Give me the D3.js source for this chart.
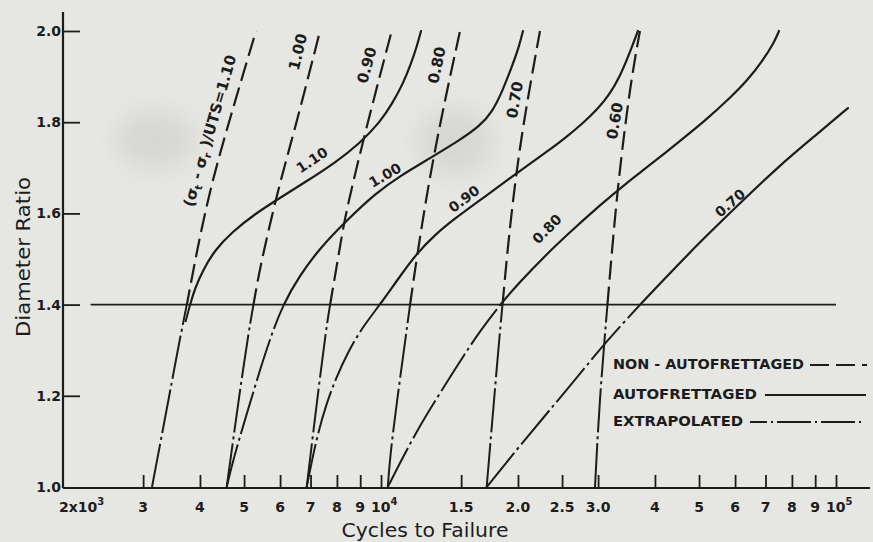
<!DOCTYPE html>
<html><head><meta charset="utf-8">
<script src="https://cdn.jsdelivr.net/npm/d3@7"></script>
<style>html,body{margin:0;padding:0;background:#e6e6e2;} svg{display:block}</style>
</head><body>
<svg id="chart" width="873" height="542"></svg>
<script>
// ---------- DATA : [cycles to failure, diameter ratio] ----------
const xTickValues = [2000,3000,4000,5000,6000,7000,8000,9000,10000,15000,20000,25000,30000,40000,50000,60000,70000,80000,90000,100000];
const xTickLabels = ["2x10","3","4","5","6","7","8","9","10","1.5","2.0","2.5","3.0","4","5","6","7","8","9","10"];
const xTickSups   = ["3","","","","","","","","4","","","","","","","","","","","5"];
const yTickValues = [1.0,1.2,1.4,1.6,1.8,2.0];
const yTickLabels = ["1.0","1.2","1.4","1.6","1.8","2.0"];

// Non-autofrettaged (dashed), from D.R. 1.4 upward
const nonAuto110 = [[3746,1.40],[3941,1.520],[4230,1.662],[4657,1.809],[5311,2.00]];
const nonAuto100 = [[5244,1.40],[5420,1.482],[5877,1.634],[6277,1.739],[6720,1.849],[7344,2.00]];
const nonAuto090 = [[7725,1.40],[8107,1.520],[8378,1.607],[9458,1.820],[10555,2.00]];
const nonAuto080 = [[11579,1.40],[12057,1.520],[12555,1.629],[13010,1.717],[13824,1.849],[14916,2.00]];
const nonAuto070 = [[18497,1.40],[18970,1.520],[19501,1.629],[20152,1.739],[20986,1.849],[22354,2.00]];
const nonAuto060 = [[31450,1.40],[33094,1.662],[35428,1.893],[37078,2.00]];

// Autofrettaged (solid), from D.R. 1.4 upward
const auto110 = [[3804,1.40],[3901,1.436],[4062,1.476],[4316,1.520],[4704,1.559],[5284,1.599],[5997,1.634],[6876,1.671],[7924,1.711],[8990,1.754],[9949,1.800],[10571,1.840],[11176,1.884],[11638,1.928],[11996,1.967],[12242,2.00]];
const auto100 = [[6089,1.40],[6636,1.465],[7344,1.524],[8335,1.581],[9749,1.645],[11008,1.682],[12814,1.721],[14916,1.761],[16502,1.792],[17540,1.822],[18450,1.866],[19402,1.923],[20000,1.958],[20512,2.00]];
const auto090 = [[9949,1.40],[10896,1.456],[11996,1.513],[13141,1.553],[14394,1.586],[17095,1.640],[19899,1.689],[22928,1.732],[25378,1.765],[27652,1.796],[29836,1.827],[31858,1.862],[33512,1.901],[34894,1.943],[35786,1.971],[36704,2.00]];
const auto080 = [[18264,1.40],[20204,1.450],[22928,1.507],[26028,1.559],[30290,1.618],[34366,1.664],[39004,1.706],[45412,1.759],[51524,1.803],[58474,1.853],[64060,1.893],[69102,1.936],[73064,1.974],[74936,2.00]];
const auto070 = [[37078,1.40],[43162,1.469],[50238,1.537],[59974,1.612],[75314,1.706],[89900,1.770],[106258,1.831]];

// Extrapolated (dash-dot), from D.R. 1.0 up to 1.4
const extrap110Non  = [[3138,1.0],[3301,1.116],[3472,1.232],[3616,1.327],[3746,1.40]];
const extrap110Auto = [[3718,1.362],[3804,1.40]];
const extrap100Non  = [[4580,1.0],[4764,1.125],[4936,1.235],[5126,1.344],[5244,1.40]];
const extrap100Auto = [[4580,1.0],[4728,1.059],[5067,1.160],[5420,1.257],[5730,1.331],[6089,1.40]];
const extrap090Non  = [[6865,1.0],[7034,1.088],[7270,1.206],[7570,1.344],[7725,1.40]];
const extrap090Auto = [[6865,1.0],[7052,1.059],[7270,1.118],[7570,1.180],[7962,1.239],[8463,1.296],[9081,1.349],[9949,1.40]];
const extrap080Non  = [[10350,1.0],[10464,1.066],[10825,1.184],[11386,1.344],[11579,1.40]];
const extrap080Auto = [[10350,1.0],[11008,1.053],[11756,1.107],[12619,1.160],[13482,1.206],[14916,1.276],[16502,1.342],[18264,1.40]];
const extrap070Non  = [[17069,1.0],[17718,1.191],[18264,1.344],[18497,1.40]];
const extrap070Auto = [[17069,1.0],[19501,1.072],[22696,1.151],[26694,1.235],[31066,1.316],[37078,1.40]];
const extrap060Non  = [[29534,1.0],[30214,1.191],[31450,1.40]];

// Reference line at diameter ratio 1.4
const refLine = [[2300,1.40],[100000,1.40]];

// Curve labels: text, cycles, ratio, angle
const dashedLabels = [["1.00",6570,1.954,-76],["0.90",9316,1.925,-75],["0.80",13274,1.925,-78],["0.70",19698,1.849,-80],["0.60",32680,1.803,-80]];
const solidLabels  = [["1.10",7052,1.717,-34],["1.00",10204,1.684,-30],["0.90",15220,1.632,-37],["0.80",23160,1.566,-45],["0.70",58480,1.623,-41]];
const ratioLabelPos = [4208,1.781,-74];

const legendItems = ["NON - AUTOFRETTAGED","AUTOFRETTAGED","EXTRAPOLATED"];

// ---------- DRAWING ----------
const W = 873, H = 542;
const ink = "#1c1c1c";
const font = "'DejaVu Sans', Verdana, sans-serif";
const svg = d3.select("#chart");
svg.append("rect").attr("width",W).attr("height",H).attr("fill","#e6e6e2");

// paper smudges
const defs = svg.append("defs");
defs.append("filter").attr("id","blur").attr("x","-60%").attr("y","-60%").attr("width","220%").attr("height","220%")
  .append("feGaussianBlur").attr("stdDeviation",12);
[[155,140,40,30],[455,142,38,34]].forEach(s=>{
  svg.append("ellipse").attr("cx",s[0]).attr("cy",s[1]).attr("rx",s[2]).attr("ry",s[3])
    .attr("fill","#b8b8b3").attr("opacity",0.32).attr("filter","url(#blur)");
});

const x = d3.scaleLog().domain([2000,100000]).range([63,836]);
const y = d3.scaleLinear().domain([1.0,2.0]).range([487,31]);
const ySplit = y(1.4);

defs.append("clipPath").attr("id","above").append("rect").attr("x",0).attr("y",0).attr("width",W).attr("height",ySplit);
defs.append("clipPath").attr("id","below").append("rect").attr("x",0).attr("y",ySplit).attr("width",W).attr("height",H-ySplit);

const line = d3.line().x(d=>x(d[0])).y(d=>y(d[1])).curve(d3.curveBasis);
const g = svg.append("g");

const DASH = "19,7", DASHDOT = "44,4,3,4";

g.append("path").attr("d", d3.line().x(d=>x(d[0])).y(d=>y(d[1]))(refLine))
  .attr("fill","none").attr("stroke",ink).attr("stroke-width",1.7);

function drawCurve(lower, upper, upperDash){
  const full = lower.concat(upper.slice(1));
  const d = line(full);
  g.append("path").attr("d", d).attr("fill","none").attr("stroke",ink)
    .attr("stroke-width",2).attr("stroke-dasharray",DASHDOT).attr("clip-path","url(#below)");
  const p = g.append("path").attr("d", d).attr("fill","none").attr("stroke",ink)
    .attr("stroke-width",2.2).attr("clip-path","url(#above)");
  if (upperDash) p.attr("stroke-dasharray",upperDash); else p.attr("stroke-linecap","round");
}
drawCurve(extrap110Non, nonAuto110, DASH);
drawCurve(extrap100Non, nonAuto100, DASH);
drawCurve(extrap090Non, nonAuto090, DASH);
drawCurve(extrap080Non, nonAuto080, DASH);
drawCurve(extrap070Non, nonAuto070, DASH);
drawCurve(extrap060Non, nonAuto060, DASH);
drawCurve(extrap110Auto, auto110, null);
drawCurve(extrap100Auto, auto100, null);
drawCurve(extrap090Auto, auto090, null);
drawCurve(extrap080Auto, auto080, null);
drawCurve(extrap070Auto, auto070, null);

// labels
function rotLabel(t, cx, cy, a, size){
  return g.append("text").attr("transform",`translate(${cx},${cy}) rotate(${a})`)
    .attr("text-anchor","middle").attr("dominant-baseline","central")
    .attr("font-family",font).attr("font-weight","bold").attr("font-size",size).attr("fill",ink).text(t);
}
dashedLabels.forEach(d=>rotLabel(d[0], x(d[1]), y(d[2]), d[3], 15));
solidLabels.forEach(d=>rotLabel(d[0], x(d[1]), y(d[2]), d[3], 14));

const rl = g.append("text").attr("transform",`translate(${x(ratioLabelPos[0])},${y(ratioLabelPos[1])}) rotate(${ratioLabelPos[2]})`)
  .attr("text-anchor","middle").attr("dominant-baseline","central")
  .attr("font-family",font).attr("font-weight","bold").attr("font-size",15).attr("fill",ink);
rl.append("tspan").text("(σ");
rl.append("tspan").attr("font-size",10).attr("dy",4).text("t");
rl.append("tspan").attr("dy",-4).text(" - σ");
rl.append("tspan").attr("font-size",10).attr("dy",4).text("r");
rl.append("tspan").attr("dy",-4).text(" )/UTS=1.10");

// axes
const x0 = x(2000), yb = y(1.0)+1;
svg.append("line").attr("x1",x0).attr("x2",870).attr("y1",yb).attr("y2",yb).attr("stroke",ink).attr("stroke-width",2.2);
svg.append("line").attr("x1",x0).attr("x2",x0).attr("y1",12).attr("y2",yb).attr("stroke",ink).attr("stroke-width",2.2);

const xAxis = d3.axisBottom(x).tickValues(xTickValues.slice(1)).tickSize(-13).tickFormat("");
const xa = svg.append("g").attr("transform",`translate(0,${yb})`).call(xAxis);
xa.select(".domain").remove();
xa.selectAll(".tick line").attr("stroke",ink).attr("stroke-width",1.8);

const yAxis = d3.axisLeft(y).tickValues(yTickValues.slice(1)).tickSize(-17).tickFormat("");
const ya = svg.append("g").attr("transform",`translate(${x0},0)`).call(yAxis);
ya.select(".domain").remove();
ya.selectAll(".tick line").attr("stroke",ink).attr("stroke-width",1.8);

// x tick labels
xTickValues.forEach((v,i)=>{
  const t = svg.append("text").attr("y",512).attr("font-family",font).attr("font-weight","bold")
    .attr("font-size",14).attr("fill",ink);
  if (xTickSups[i]) {
    t.attr("x", i===0 ? x(v)-4 : x(v)-10).attr("text-anchor","start");
    t.append("tspan").text(xTickLabels[i]);
    t.append("tspan").attr("font-size",10).attr("dy",-7).text(xTickSups[i]);
  } else {
    t.attr("x", x(v)).attr("text-anchor","middle").text(xTickLabels[i]);
  }
});
// y tick labels
yTickValues.forEach((v,i)=>{
  svg.append("text").attr("x",61).attr("y",y(v)).attr("dy","0.36em").attr("text-anchor","end")
    .attr("font-family",font).attr("font-weight","bold").attr("font-size",14).attr("fill",ink).text(yTickLabels[i]);
});

// axis titles
svg.append("text").attr("x",425).attr("y",537).attr("text-anchor","middle")
  .attr("font-family",font).attr("font-size",19).attr("fill",ink)
  .attr("textLength",167).attr("lengthAdjust","spacingAndGlyphs").text("Cycles to Failure");
svg.append("text").attr("transform","translate(30,257) rotate(-90)").attr("text-anchor","middle")
  .attr("font-family",font).attr("font-size",19).attr("fill",ink)
  .attr("textLength",160).attr("lengthAdjust","spacingAndGlyphs").text("Diameter Ratio");

// legend
const legRows = [
  {y:364, len:191, x1:810, x2:867, dash:DASH, off:0},
  {y:394, len:144, x1:765, x2:866, dash:null, off:0},
  {y:421, len:130, x1:750, x2:864, dash:"34,4,2,4", off:17}
];
legendItems.forEach((txt,i)=>{
  const r = legRows[i];
  svg.append("text").attr("x",613).attr("y",r.y).attr("dominant-baseline","central")
    .attr("font-family",font).attr("font-weight","bold").attr("font-size",14.5).attr("fill",ink)
    .attr("textLength",r.len).attr("lengthAdjust","spacingAndGlyphs").text(txt);
  const l = svg.append("line").attr("x1",r.x1).attr("x2",r.x2).attr("y1",r.y+1).attr("y2",r.y+1)
    .attr("stroke",ink).attr("stroke-width",2.2);
  if (r.dash) l.attr("stroke-dasharray",r.dash).attr("stroke-dashoffset",r.off);
});
</script>
</body></html>
